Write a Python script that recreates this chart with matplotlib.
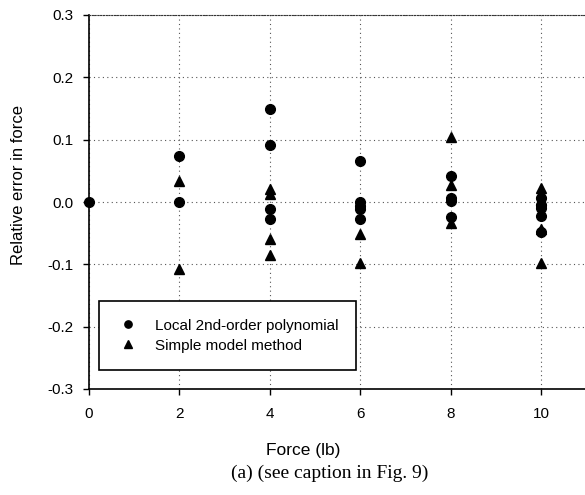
import numpy as np
import matplotlib.pyplot as plt

plt.rcParams['font.family'] = ['Liberation Sans', 'DejaVu Sans']
plt.rcParams['axes.unicode_minus'] = False

# Local 2nd-order polynomial (circles)
poly_force = [0, 2, 2, 4, 4, 4, 4, 6, 6, 6, 6, 6, 8, 8, 8, 8, 10, 10, 10, 10, 10]
poly_error = [0.0, 0.074, 0.0, 0.149, 0.091, -0.012, -0.028,
              0.065, 0.0, -0.006, -0.012, -0.027,
              0.042, 0.007, 0.002, -0.024,
              0.006, -0.005, -0.009, -0.023, -0.048]

# Simple model method (triangles)
simple_force = [2, 2, 4, 4, 4, 4, 6, 6, 8, 8, 8, 10, 10, 10, 10, 10]
simple_error = [0.033, -0.107, 0.021, 0.013, -0.059, -0.085,
                -0.052, -0.098, 0.104, 0.028, -0.034,
                0.022, 0.014, 0.004, -0.043, -0.098]

x_ticks = [0, 2, 4, 6, 8, 10]
y_ticks = [-0.3, -0.2, -0.1, 0.0, 0.1, 0.2, 0.3]

fig = plt.figure(figsize=(5.85, 4.95), dpi=100)
ax = fig.add_axes([89 / 585, 1 - 389 / 495, 1 - 89 / 585 + 0.002, (389 - 15) / 495])

ax.plot(poly_force, poly_error, 'o', color='black', markersize=7,
        linestyle='none', label='Local 2nd-order polynomial', clip_on=False, zorder=3)
ax.plot(simple_force, simple_error, '^', color='black', markersize=7.5,
        linestyle='none', label='Simple model method', clip_on=False, zorder=3)

ax.set_xlim(0, 11)
ax.set_ylim(-0.3, 0.3)
ax.set_xticks(x_ticks)
ax.set_yticks(y_ticks)
ax.set_yticklabels(['%.1f' % v for v in y_ticks])
ax.tick_params(direction='out', length=4, width=1, labelsize=11, pad=7)
ax.tick_params(axis='x', pad=9)

ax.grid(True, linestyle=(0, (1, 3)), color='#555555', linewidth=0.8)
ax.spines['right'].set_visible(False)
ax.spines['top'].set_linestyle((0, (1, 1.5)))
ax.spines['top'].set_color('#333333')
ax.spines['left'].set_linewidth(1.2)
ax.spines['bottom'].set_linewidth(1.2)

fig.text(19 / 585, 1 - 185 / 495, 'Relative error in force', rotation=90,
         ha='center', va='center', fontsize=12)
fig.text(303 / 585, 1 - 450 / 495, 'Force (lb)', ha='center', va='center', fontsize=12.5)
fig.text(330 / 585, 1 - 473 / 495, '(a) (see caption in Fig. 9)', ha='center', va='center',
         fontsize=14, family=['Liberation Serif', 'DejaVu Serif'])

leg = ax.legend(loc='upper left', bbox_to_anchor=(99 / 585, 1 - 301 / 495),
                bbox_transform=fig.transFigure, fancybox=False, framealpha=1,
                edgecolor='black', fontsize=11, handlelength=1.5, handletextpad=1.0,
                borderpad=1.15, labelspacing=0.4, borderaxespad=0, markerscale=0.75)
leg.get_frame().set_linewidth(1.2)

fig.savefig('out.png', dpi=100)
